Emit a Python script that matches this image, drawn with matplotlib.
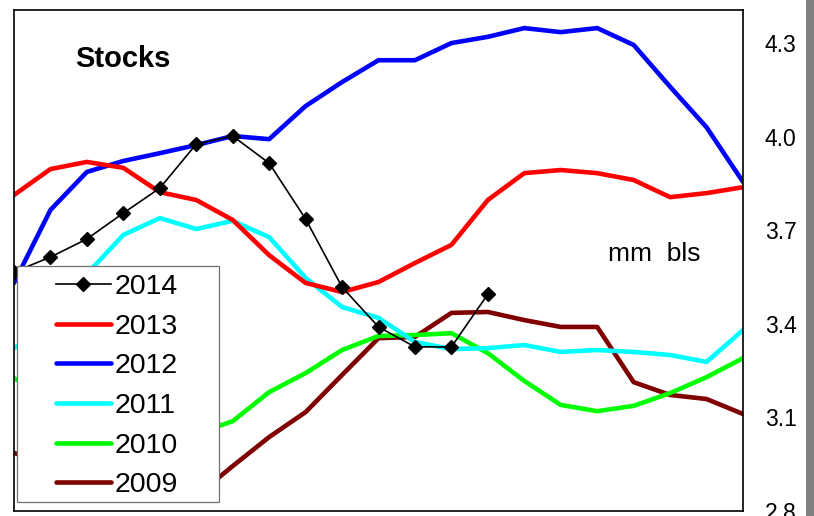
import matplotlib
matplotlib.use('Agg')
import matplotlib.pyplot as plt
from matplotlib.patches import Rectangle
import numpy as np

plt.rcParams['font.family'] = ['Liberation Sans', 'DejaVu Sans']

years = ['2014', '2013', '2012', '2011', '2010', '2009']
colors = ['black', '#ff0000', '#0000ff', '#00ffff', '#00ff00', '#800000']

y2014 = [3.566, 3.614, 3.672, 3.755, 3.835, 3.976, 4.002, 3.915, 3.736, 3.518,
         3.39, 3.326, 3.326, 3.495]
y2013 = [3.813, 3.896, 3.919, 3.90, 3.822, 3.797, 3.733, 3.62, 3.531, 3.502,
         3.534, 3.595, 3.653, 3.797, 3.883, 3.893, 3.883, 3.861, 3.806, 3.819, 3.838]
y2012 = [3.531, 3.765, 3.887, 3.922, 3.947, 3.973, 4.002, 3.992, 4.098, 4.175,
         4.245, 4.245, 4.30, 4.32, 4.348, 4.335, 4.348, 4.294, 4.16, 4.03, 3.855]
y2011 = [3.322, 3.40, 3.56, 3.685, 3.739, 3.704, 3.73, 3.678, 3.547, 3.454,
         3.419, 3.342, 3.319, 3.322, 3.332, 3.31, 3.316, 3.31, 3.30, 3.278, 3.38]
y2010 = [3.226, 3.16, 3.10, 3.07, 3.05, 3.047, 3.088, 3.181, 3.242, 3.316,
         3.361, 3.364, 3.37, 3.306, 3.217, 3.14, 3.12, 3.137, 3.178, 3.229, 3.29]
y2009 = [2.986, 2.95, 2.90, 2.86, 2.84, 2.848, 2.944, 3.037, 3.117, 3.236,
         3.354, 3.358, 3.435, 3.438, 3.412, 3.39, 3.39, 3.213, 3.172, 3.159, 3.111]

yticks = [2.8, 3.1, 3.4, 3.7, 4.0, 4.3]

fig = plt.figure(figsize=(8.14, 5.16), dpi=100)
ax = fig.add_axes([14/814, 1 - 511/516, 729/814, 501/516])

series = [y2014, y2013, y2012, y2011, y2010, y2009]
handles = {}
# older years first so 2014 ends up on top
for name, c, ys in reversed(list(zip(years, colors, series))):
    x = np.arange(len(ys))
    if name == '2014':
        h, = ax.plot(x, ys, color=c, lw=1.2, marker='D', ms=7.5, zorder=3)
    else:
        h, = ax.plot(x, ys, color=c, lw=3.3, solid_capstyle='round', zorder=2)
    handles[name] = h

ax.set_xlim(0, 20)
ax.set_ylim(2.8, 4.406)
ax.set_xticks([])
ax.yaxis.tick_right()
ax.set_yticks(yticks)
ax.set_yticklabels(['%.1f' % t for t in yticks])
ax.tick_params(axis='y', length=0, pad=15.8, labelsize=16.5)
for s in ax.spines.values():
    s.set_linewidth(1.2)

# legend frame drawn by hand, legend itself without frame
ax.add_patch(Rectangle((17/814, 1 - 502/516), 202/814, 236/516,
                       transform=fig.transFigure, facecolor='white',
                       edgecolor='#707070', lw=0.9, zorder=4))
ax.legend([handles[n] for n in years], years, loc='upper left',
          bbox_to_anchor=(56/814, 1 - 274/516), bbox_transform=fig.transFigure,
          frameon=False, fontsize=20.5, handlelength=1.93, handletextpad=0.14,
          labelspacing=0.48, borderpad=0, borderaxespad=0)

fig.text(75/814, 1 - 59/516, 'Stocks', fontsize=21, fontweight='bold',
         va='center', ha='left')
fig.text(608/814, 1 - 254/516, 'mm  bls', fontsize=19, va='center', ha='left')

fig.patches.append(Rectangle((806/814, 0), 8/814, 1, transform=fig.transFigure,
                             facecolor='#808080', edgecolor='none', figure=fig))

fig.savefig('out.png', dpi=100)
